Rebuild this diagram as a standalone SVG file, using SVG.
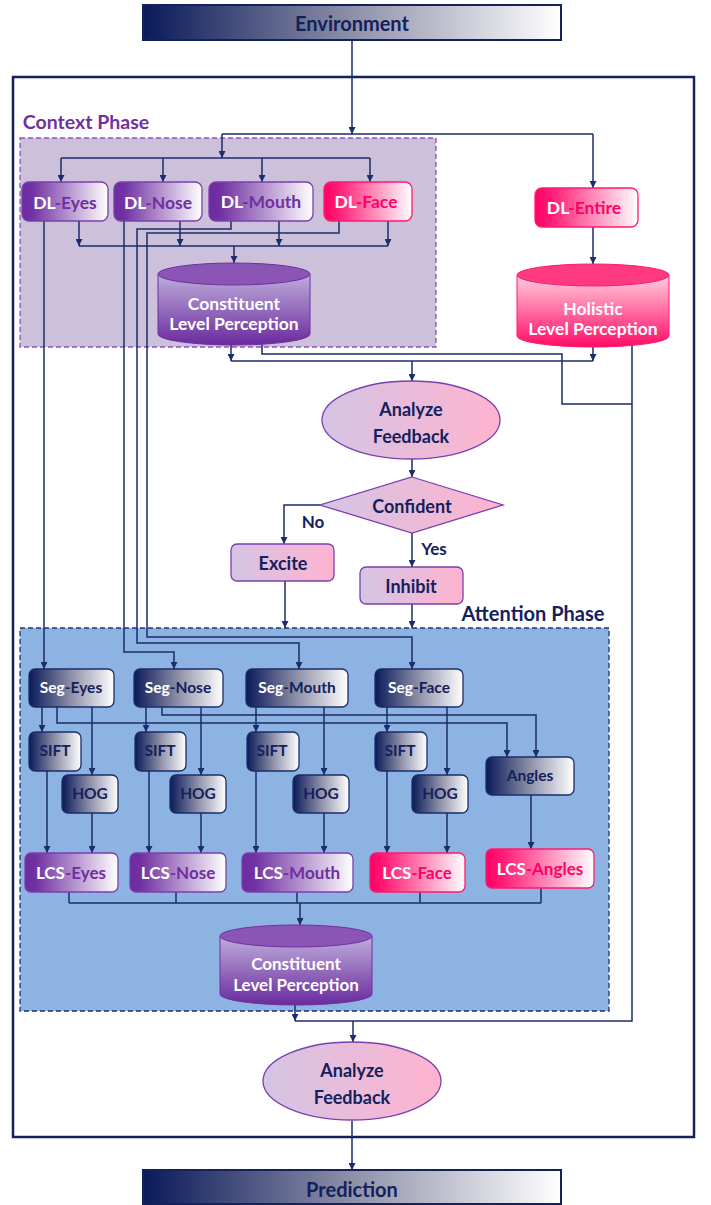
<svg xmlns="http://www.w3.org/2000/svg" width="711" height="1205" viewBox="0 0 711 1205">
<defs>
<style>
.c{fill:none;stroke:#1b2d6b;stroke-width:1.5}
.a{marker-end:url(#ah)}
.t{font-family:Lato,'Open Sans','Liberation Sans',sans-serif;font-weight:700;text-anchor:middle;dominant-baseline:central}
.w{fill:#ffffff}
.nv{fill:#13215c}
.pu{fill:#7030a0}
.pk{fill:#ff0066}
.bp{stroke:#7a3fb0;stroke-width:1.3}
.bk{stroke:#ff1a72;stroke-width:1.3}
.bn{stroke:#1b2d6b;stroke-width:1.3}
.bs{stroke:#7a3fb0;stroke-width:1.3;fill:url(#gSoft)}
</style>
<marker id="ah" viewBox="0 0 8 8" refX="8" refY="4" markerWidth="7" markerHeight="7" markerUnits="userSpaceOnUse" orient="auto"><path d="M0,0 L8,4 L0,8 z" fill="#1b2d6b"/></marker>
<linearGradient id="gNavy" x1="0" y1="0" x2="1" y2="0"><stop offset="0" stop-color="#0a1a5a"/><stop offset="0.5" stop-color="#8e90a8"/><stop offset="1" stop-color="#ffffff"/></linearGradient>
<linearGradient id="gPur" x1="0" y1="0" x2="1" y2="0"><stop offset="0" stop-color="#6c2a9e"/><stop offset="0.12" stop-color="#7232a3"/><stop offset="1" stop-color="#ffffff"/></linearGradient>
<linearGradient id="gPink" x1="0" y1="0" x2="1" y2="0"><stop offset="0" stop-color="#ff0066"/><stop offset="0.15" stop-color="#ff1a74"/><stop offset="1" stop-color="#ffffff"/></linearGradient>
<linearGradient id="gSoft" x1="0" y1="0" x2="1" y2="0"><stop offset="0" stop-color="#d4c4e4"/><stop offset="1" stop-color="#ffb3cf"/></linearGradient>
<linearGradient id="gCylP" x1="0" y1="0" x2="0" y2="1"><stop offset="0" stop-color="#bfaedb"/><stop offset="1" stop-color="#6a2a9e"/></linearGradient>
<linearGradient id="gCylK" x1="0" y1="0" x2="0" y2="1"><stop offset="0" stop-color="#ffd0de"/><stop offset="1" stop-color="#ff0a66"/></linearGradient>
</defs>

<rect x="0" y="0" width="711" height="1205" fill="#ffffff"/>

<g id="frame">
<rect x="13" y="77" width="681" height="1060" fill="none" stroke="#13215c" stroke-width="2.5"/>
</g>
<g id="context-phase">
<rect x="20" y="138" width="416" height="209" fill="#ccc0da" stroke="#8a55b8" stroke-width="1.3" stroke-dasharray="5,3"/>
<text class="t pu" x="86" y="121" style="font-size:19.5px">Context Phase</text>
</g>
<g id="attention-phase">
<rect x="20" y="628" width="589" height="383" fill="#8db3e2" stroke="#1f3868" stroke-width="1.3" stroke-dasharray="5,3"/>
<text class="t nv" x="533" y="613" style="font-size:20px">Attention Phase</text>
</g>

<g id="connectors">
<path class="c a" d="M352,40 V134"/>
<path class="c" d="M222,134 H593"/>
<path class="c a" d="M593,134 V188"/>
<path class="c a" d="M222,134 V158"/>
<path class="c" d="M61,158 H370"/>
<path class="c a" d="M61,158 V182"/>
<path class="c a" d="M163,158 V182"/>
<path class="c a" d="M262,158 V182"/>
<path class="c a" d="M370,158 V182"/>
<path class="c a" d="M79,221 V246"/>
<path class="c a" d="M180,221 V246"/>
<path class="c a" d="M279,221 V246"/>
<path class="c a" d="M388,221 V246"/>
<path class="c" d="M79,246 H388"/>
<path class="c a" d="M234,246 V263"/>
<path class="c a" d="M593,227 V264"/>
<path class="c a" d="M44,221 V669"/>
<path class="c a" d="M124,221 V652 H174 V669"/>
<path class="c a" d="M231,221 V229 H137 V643 H299 V669"/>
<path class="c a" d="M339,221 V233 H147 V637 H412 V669"/>
<path class="c a" d="M231,345 V361"/>
<path class="c a" d="M593,347 V361"/>
<path class="c" d="M231,361 H593"/>
<path class="c a" d="M412,361 V381"/>
<path class="c" d="M262,345 V354 H562 V404 H632"/>
<path class="c" d="M632,345 V1021 H295"/>
<path class="c a" d="M412,459 V477"/>
<path class="c a" d="M320,505 H284 V544"/>
<path class="c a" d="M412,533 V567"/>
<path class="c a" d="M285,581 V628"/>
<path class="c a" d="M412,604 V628"/>
<path class="c a" d="M42,707 V732"/>
<path class="c a" d="M92,707 V775"/>
<path class="c a" d="M146,707 V732"/>
<path class="c a" d="M201,707 V775"/>
<path class="c a" d="M256,707 V732"/>
<path class="c a" d="M324,707 V775"/>
<path class="c a" d="M387,707 V732"/>
<path class="c a" d="M447,707 V775"/>
<path class="c a" d="M57,707 V723 H507 V757"/>
<path class="c a" d="M162,707 V715 H536 V757"/>
<path class="c a" d="M47,771 V853"/>
<path class="c a" d="M92,813 V853"/>
<path class="c a" d="M149,771 V853"/>
<path class="c a" d="M201,813 V853"/>
<path class="c a" d="M256,771 V853"/>
<path class="c a" d="M324,813 V853"/>
<path class="c a" d="M387,771 V853"/>
<path class="c a" d="M447,813 V853"/>
<path class="c a" d="M531,795 V849"/>
<path class="c" d="M69,892 V903 M176,892 V903 M297,892 V903 M420,892 V903 M541,888 V903 M69,903 H541"/>
<path class="c a" d="M300,903 V925"/>
<path class="c a" d="M295,1005 V1021"/>
<path class="c a" d="M353,1021 V1042"/>
<path class="c a" d="M352,1121 V1170"/>
</g>

<g id="environment">
<rect x="143" y="5" width="418" height="35" fill="url(#gNavy)" stroke="#13215c" stroke-width="2"/>
<text class="t nv" x="352" y="23" style="font-size:20px">Environment</text>
</g>

<g id="dl-eyes"><rect x="22" y="182" width="86" height="39" rx="7" fill="url(#gPur)" class="bp"/>
<text class="t" x="65" y="202" style="font-size:17.5px"><tspan class="w">DL</tspan><tspan class="pu">-Eyes</tspan></text></g>
<g id="dl-nose"><rect x="114" y="182" width="88" height="39" rx="7" fill="url(#gPur)" class="bp"/>
<text class="t" x="158" y="202" style="font-size:17.5px"><tspan class="w">DL</tspan><tspan class="pu">-Nose</tspan></text></g>
<g id="dl-mouth"><rect x="209" y="182" width="104" height="39" rx="7" fill="url(#gPur)" class="bp"/>
<text class="t" x="261" y="201" style="font-size:17.5px"><tspan class="w">DL</tspan><tspan class="pu">-Mouth</tspan></text></g>
<g id="dl-face"><rect x="324" y="182" width="88" height="39" rx="7" fill="url(#gPink)" class="bk"/>
<text class="t" x="366" y="201" style="font-size:17.5px"><tspan class="w">DL</tspan><tspan class="pk">-Face</tspan></text></g>
<g id="dl-entire"><rect x="535" y="188" width="103" height="39" rx="7" fill="url(#gPink)" class="bk"/>
<text class="t" x="584" y="207" style="font-size:17.5px"><tspan class="w">DL</tspan><tspan class="pk">-Entire</tspan></text></g>

<g id="constituent-context">
<path d="M158,274 V334 A76,11 0 0 0 310,334 V274 Z" fill="url(#gCylP)" stroke="#7030a0" stroke-width="1"/>
<ellipse cx="234" cy="274" rx="76" ry="11" fill="#8b55b6" stroke="#7030a0" stroke-width="1"/>
<text class="t w" x="234" y="303" style="font-size:17.5px">Constituent</text>
<text class="t w" x="234" y="323" style="font-size:17.5px">Level Perception</text>
</g>

<g id="holistic">
<path d="M517,275 V336 A76,11 0 0 0 669,336 V275 Z" fill="url(#gCylK)" stroke="#ff1a72" stroke-width="1"/>
<ellipse cx="593" cy="275" rx="76" ry="11" fill="#ff3a80" stroke="#ff1a72" stroke-width="1"/>
<text class="t w" x="593" y="308" style="font-size:17.5px">Holistic</text>
<text class="t w" x="593" y="328" style="font-size:17.5px">Level Perception</text>
</g>

<g id="analyze-1">
<ellipse cx="411" cy="420" rx="89" ry="39" class="bs"/>
<text class="t nv" x="411" y="409" style="font-size:18px">Analyze</text>
<text class="t nv" x="411" y="436" style="font-size:18px">Feedback</text>
</g>

<g id="confident">
<path d="M412,477 L503,505 L412,533 L320,505 Z" class="bs"/>
<text class="t nv" x="412" y="506" style="font-size:18px">Confident</text>
</g>
<g id="labels">
<text class="t nv" x="313" y="521" style="font-size:17px">No</text>
<text class="t nv" x="434" y="548" style="font-size:17px">Yes</text>
</g>

<g id="excite"><rect x="231" y="544" width="103" height="37" rx="6" class="bs"/>
<text class="t nv" x="283" y="563" style="font-size:18px">Excite</text></g>
<g id="inhibit"><rect x="360" y="567" width="103" height="37" rx="6" class="bs"/>
<text class="t nv" x="411" y="586" style="font-size:18px">Inhibit</text></g>

<g id="seg-eyes"><rect x="29" y="669" width="85" height="38" rx="6" fill="url(#gNavy)" class="bn"/>
<text class="t" x="71" y="687" style="font-size:15.5px"><tspan class="w">Seg</tspan><tspan class="nv">-Eyes</tspan></text></g>
<g id="seg-nose"><rect x="134" y="669" width="89" height="38" rx="6" fill="url(#gNavy)" class="bn"/>
<text class="t" x="178" y="687" style="font-size:15.5px"><tspan class="w">Seg</tspan><tspan class="nv">-Nose</tspan></text></g>
<g id="seg-mouth"><rect x="246" y="669" width="102" height="38" rx="6" fill="url(#gNavy)" class="bn"/>
<text class="t" x="297" y="687" style="font-size:15.5px"><tspan class="w">Seg</tspan><tspan class="nv">-Mouth</tspan></text></g>
<g id="seg-face"><rect x="375" y="669" width="88" height="38" rx="6" fill="url(#gNavy)" class="bn"/>
<text class="t" x="419" y="687" style="font-size:15.5px"><tspan class="w">Seg</tspan><tspan class="nv">-Face</tspan></text></g>

<g id="sift-eyes"><rect x="29" y="732" width="52" height="39" rx="6" fill="url(#gNavy)" class="bn"/><text class="t nv" x="55" y="750" style="font-size:15.5px">SIFT</text></g>
<g id="sift-nose"><rect x="135" y="732" width="51" height="39" rx="6" fill="url(#gNavy)" class="bn"/><text class="t nv" x="160" y="750" style="font-size:15.5px">SIFT</text></g>
<g id="sift-mouth"><rect x="247" y="732" width="52" height="39" rx="6" fill="url(#gNavy)" class="bn"/><text class="t nv" x="272" y="750" style="font-size:15.5px">SIFT</text></g>
<g id="sift-face"><rect x="375" y="732" width="52" height="39" rx="6" fill="url(#gNavy)" class="bn"/><text class="t nv" x="400" y="750" style="font-size:15.5px">SIFT</text></g>

<g id="hog-eyes"><rect x="62" y="775" width="56" height="38" rx="6" fill="url(#gNavy)" class="bn"/><text class="t nv" x="90" y="793" style="font-size:15.5px">HOG</text></g>
<g id="hog-nose"><rect x="170" y="775" width="56" height="38" rx="6" fill="url(#gNavy)" class="bn"/><text class="t nv" x="198" y="793" style="font-size:15.5px">HOG</text></g>
<g id="hog-mouth"><rect x="293" y="775" width="56" height="38" rx="6" fill="url(#gNavy)" class="bn"/><text class="t nv" x="321" y="793" style="font-size:15.5px">HOG</text></g>
<g id="hog-face"><rect x="412" y="775" width="56" height="38" rx="6" fill="url(#gNavy)" class="bn"/><text class="t nv" x="440" y="793" style="font-size:15.5px">HOG</text></g>

<g id="angles"><rect x="486" y="757" width="88" height="38" rx="6" fill="url(#gNavy)" class="bn"/><text class="t nv" x="530" y="775" style="font-size:15.5px">Angles</text></g>

<g id="lcs-eyes"><rect x="25" y="853" width="93" height="39" rx="6" fill="url(#gPur)" class="bp"/>
<text class="t" x="71" y="872" style="font-size:17px"><tspan class="w">LCS</tspan><tspan class="pu">-Eyes</tspan></text></g>
<g id="lcs-nose"><rect x="130" y="853" width="96" height="39" rx="6" fill="url(#gPur)" class="bp"/>
<text class="t" x="178" y="872" style="font-size:17px"><tspan class="w">LCS</tspan><tspan class="pu">-Nose</tspan></text></g>
<g id="lcs-mouth"><rect x="242" y="853" width="111" height="39" rx="6" fill="url(#gPur)" class="bp"/>
<text class="t" x="297" y="872" style="font-size:17px"><tspan class="w">LCS</tspan><tspan class="pu">-Mouth</tspan></text></g>
<g id="lcs-face"><rect x="370" y="853" width="95" height="39" rx="6" fill="url(#gPink)" class="bk"/>
<text class="t" x="417" y="872" style="font-size:17px"><tspan class="w">LCS</tspan><tspan class="pk">-Face</tspan></text></g>
<g id="lcs-angles"><rect x="486" y="849" width="108" height="39" rx="6" fill="url(#gPink)" class="bk"/>
<text class="t" x="540" y="868" style="font-size:17px"><tspan class="w">LCS</tspan><tspan class="pk">-Angles</tspan></text></g>

<g id="constituent-attention">
<path d="M220,936 V994 A76,11 0 0 0 372,994 V936 Z" fill="url(#gCylP)" stroke="#7030a0" stroke-width="1"/>
<ellipse cx="296" cy="936" rx="76" ry="11" fill="#8b55b6" stroke="#7030a0" stroke-width="1"/>
<text class="t w" x="296" y="963" style="font-size:17px">Constituent</text>
<text class="t w" x="296" y="984" style="font-size:17px">Level Perception</text>
</g>

<g id="analyze-2">
<ellipse cx="352" cy="1081" rx="89" ry="39" class="bs"/>
<text class="t nv" x="352" y="1070" style="font-size:18px">Analyze</text>
<text class="t nv" x="352" y="1097" style="font-size:18px">Feedback</text>
</g>

<g id="prediction">
<rect x="143" y="1170" width="418" height="34" fill="url(#gNavy)" stroke="#13215c" stroke-width="2"/>
<text class="t nv" x="352" y="1189" style="font-size:20px">Prediction</text>
</g>
</svg>
